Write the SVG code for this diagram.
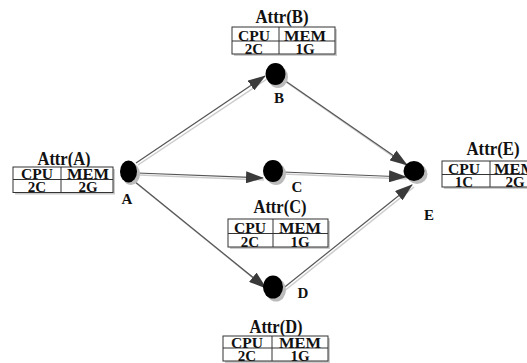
<svg xmlns="http://www.w3.org/2000/svg" width="527" height="363" viewBox="0 0 527 363">
<defs>
<marker id="ah" markerWidth="18" markerHeight="12" refX="17" refY="6" orient="auto" markerUnits="userSpaceOnUse">
<path d="M0,0 L18,6 L0,12 Z" fill="#3a3a3a"/>
</marker>
<style>
.edge{stroke:#555;stroke-width:1.2;fill:none}
.eshadow{stroke:#ccc;stroke-width:1.5;fill:none}
.node{fill:#000}
.nshadow{fill:#bbb}
.tbl{fill:#fff;stroke:#333;stroke-width:1}
.tshadow{fill:#ccc}
.ln{stroke:#333;stroke-width:1}
.t{font-family:"Liberation Serif","Times New Roman",serif;fill:#111;text-anchor:middle}
.title{font-size:18px;font-weight:bold}
.cell{font-size:15px;font-weight:bold}
.lbl{font-size:15px;font-weight:bold}
</style>
</defs>
<rect width="527" height="363" fill="#fff"/>
<g id="connectors">
<line class="eshadow" x1="138" y1="165" x2="267" y2="79"/>
<line class="edge" x1="136" y1="163" x2="265" y2="76" marker-end="url(#ah)"/>
<line class="eshadow" x1="139" y1="175" x2="264" y2="180"/>
<line class="edge" x1="137" y1="173" x2="263" y2="178" marker-end="url(#ah)"/>
<line class="eshadow" x1="136" y1="183" x2="268" y2="290"/>
<line class="edge" x1="134" y1="181" x2="266" y2="288" marker-end="url(#ah)"/>
<line class="eshadow" x1="286" y1="82" x2="408" y2="167"/>
<line class="edge" x1="284" y1="80" x2="407" y2="165" marker-end="url(#ah)"/>
<line class="eshadow" x1="283" y1="174" x2="407" y2="179"/>
<line class="edge" x1="283" y1="172" x2="406" y2="177" marker-end="url(#ah)"/>
<line class="eshadow" x1="283" y1="292" x2="414" y2="187"/>
<line class="edge" x1="281" y1="290" x2="412" y2="185" marker-end="url(#ah)"/>
</g>
<g id="node-A">
<ellipse class="nshadow" cx="131" cy="174" rx="9" ry="11"/>
<ellipse class="node" cx="128.5" cy="171.5" rx="8.5" ry="11"/>
<text class="t lbl" x="127" y="204">A</text>
<text class="t title" x="64" y="165" textLength="53" lengthAdjust="spacingAndGlyphs">Attr(A)</text>
<rect class="tshadow" x="15" y="169" width="100" height="25.5"/>
<rect class="tbl" x="13" y="167" width="100" height="25.5"/>
<line class="ln" x1="13" y1="179.5" x2="113" y2="179.5"/>
<line class="ln" x1="61" y1="167" x2="61" y2="192.5"/>
<text class="t cell" x="37" y="179" textLength="32" lengthAdjust="spacingAndGlyphs">CPU</text>
<text class="t cell" x="88" y="179" textLength="42" lengthAdjust="spacingAndGlyphs">MEM</text>
<text class="t cell" x="37" y="191.5">2C</text>
<text class="t cell" x="88" y="191.5">2G</text>
</g>
<g id="node-B">
<ellipse class="nshadow" cx="278" cy="77" rx="10" ry="11"/>
<ellipse class="node" cx="275.5" cy="74" rx="10" ry="11"/>
<text class="t lbl" x="279" y="103">B</text>
<text class="t title" x="282" y="23" textLength="53" lengthAdjust="spacingAndGlyphs">Attr(B)</text>
<rect class="tshadow" x="234" y="29" width="103" height="27"/>
<rect class="tbl" x="232" y="27" width="103" height="27"/>
<line class="ln" x1="232" y1="41" x2="335" y2="41"/>
<line class="ln" x1="279" y1="27" x2="279" y2="54"/>
<text class="t cell" x="254" y="40.5" textLength="32" lengthAdjust="spacingAndGlyphs">CPU</text>
<text class="t cell" x="305" y="40.5" textLength="42" lengthAdjust="spacingAndGlyphs">MEM</text>
<text class="t cell" x="254" y="53.5">2C</text>
<text class="t cell" x="305" y="53.5">1G</text>
</g>
<g id="node-C">
<ellipse class="nshadow" cx="276" cy="174" rx="10" ry="11"/>
<ellipse class="node" cx="273" cy="171" rx="10" ry="11"/>
<text class="t lbl" x="297" y="192">C</text>
<text class="t title" x="280" y="213" textLength="53" lengthAdjust="spacingAndGlyphs">Attr(C)</text>
<rect class="tshadow" x="230" y="221" width="100" height="28"/>
<rect class="tbl" x="228" y="219" width="100" height="28"/>
<line class="ln" x1="228" y1="233.5" x2="328" y2="233.5"/>
<line class="ln" x1="273" y1="219" x2="273" y2="247"/>
<text class="t cell" x="250" y="233" textLength="32" lengthAdjust="spacingAndGlyphs">CPU</text>
<text class="t cell" x="300" y="233" textLength="42" lengthAdjust="spacingAndGlyphs">MEM</text>
<text class="t cell" x="250" y="246.5">2C</text>
<text class="t cell" x="300" y="246.5">1G</text>
</g>
<g id="node-D">
<ellipse class="nshadow" cx="276" cy="290" rx="10" ry="11.5"/>
<ellipse class="node" cx="273" cy="287" rx="10" ry="11.5"/>
<text class="t lbl" x="303" y="298">D</text>
<text class="t title" x="276" y="333" textLength="53" lengthAdjust="spacingAndGlyphs">Attr(D)</text>
<rect class="tshadow" x="225" y="338" width="105" height="25"/>
<rect class="tbl" x="223" y="336" width="105" height="25"/>
<line class="ln" x1="223" y1="348" x2="328" y2="348"/>
<line class="ln" x1="272" y1="336" x2="272" y2="361"/>
<text class="t cell" x="247" y="347.5" textLength="32" lengthAdjust="spacingAndGlyphs">CPU</text>
<text class="t cell" x="300" y="347.5" textLength="42" lengthAdjust="spacingAndGlyphs">MEM</text>
<text class="t cell" x="247" y="360.5">2C</text>
<text class="t cell" x="300" y="360.5">1G</text>
</g>
<g id="node-E">
<ellipse class="nshadow" cx="417" cy="174" rx="10.5" ry="10"/>
<ellipse class="node" cx="414" cy="171" rx="10.5" ry="10"/>
<text class="t lbl" x="429" y="220">E</text>
<text class="t title" x="493" y="155" textLength="53" lengthAdjust="spacingAndGlyphs">Attr(E)</text>
<rect class="tshadow" x="444" y="163" width="104" height="26"/>
<rect class="tbl" x="442" y="161" width="104" height="26"/>
<line class="ln" x1="442" y1="174.5" x2="546" y2="174.5"/>
<line class="ln" x1="490" y1="161" x2="490" y2="187"/>
<text class="t cell" x="464" y="174" textLength="32" lengthAdjust="spacingAndGlyphs">CPU</text>
<text class="t cell" x="515" y="174" textLength="42" lengthAdjust="spacingAndGlyphs">MEM</text>
<text class="t cell" x="464" y="186.5">1C</text>
<text class="t cell" x="515" y="186.5">2G</text>
</g>
</svg>
